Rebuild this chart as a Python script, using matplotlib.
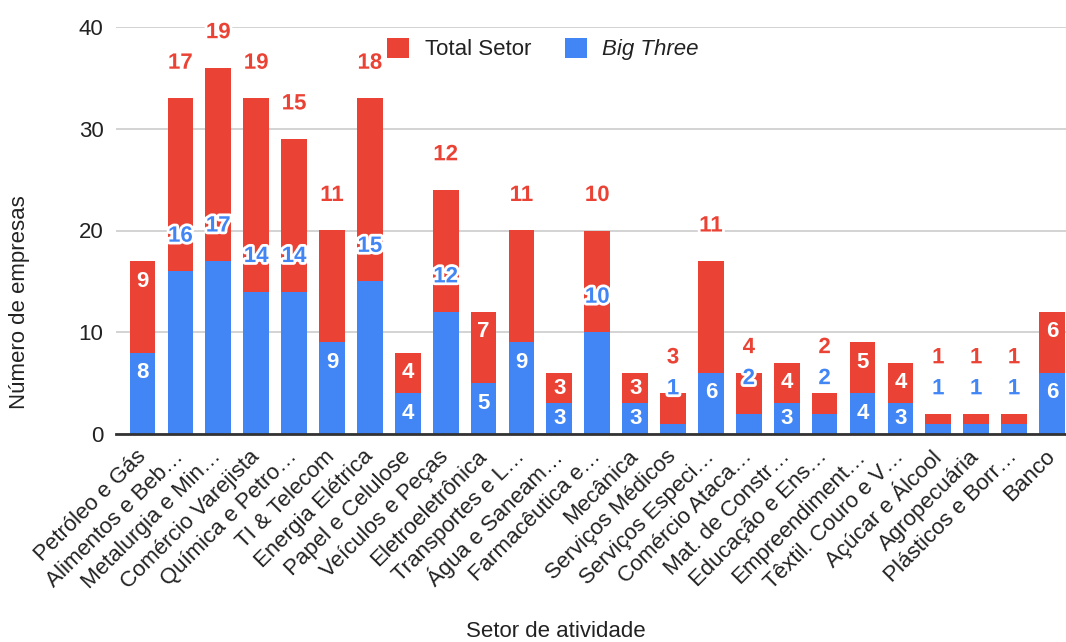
import matplotlib
matplotlib.use("Agg")
import matplotlib.pyplot as plt
import matplotlib.patheffects as pe
import numpy as np
from matplotlib.patches import Patch

categories = [
    "Petróleo e Gás", "Alimentos e Beb…", "Metalurgia e Min…", "Comércio Varejista",
    "Química e Petro…", "TI & Telecom", "Energia Elétrica", "Papel e Celulose",
    "Veículos e Peças", "Eletroeletrônica", "Transportes e L…", "Água e Saneam…",
    "Farmacêutica e…", "Mecânica", "Serviços Médicos", "Serviços Especi…",
    "Comércio Ataca…", "Mat. de Constr…", "Educação e Ens…", "Empreendiment…",
    "Têxtil. Couro e V…", "Açúcar e Álcool", "Agropecuária", "Plásticos e Borr…", "Banco",
]
big_three = [8, 16, 17, 14, 14, 9, 15, 4, 12, 5, 9, 3, 10, 3, 1, 6, 2, 3, 2, 4, 3, 1, 1, 1, 6]
total_setor = [9, 17, 19, 19, 15, 11, 18, 4, 12, 7, 11, 3, 10, 3, 3, 11, 4, 4, 2, 5, 4, 1, 1, 1, 6]
yticks = [0, 10, 20, 30, 40]

RED = "#EA4335"
BLUE = "#4285F4"
TXT = "#222222"
FONT = "Liberation Sans"

plt.rcParams['font.family'] = [FONT, 'DejaVu Sans']

W, H = 1066, 642
fig = plt.figure(figsize=(W / 100, H / 100), dpi=100)
ax = fig.add_axes([116 / W, 1 - 434 / H, (1066 - 116) / W, (434 - 27) / H])

x = np.arange(len(categories))
bw = 0.68
b = np.array(big_three)
r = np.array(total_setor)
ax.bar(x, b, width=bw, color=BLUE, zorder=2, label="Big Three")
ax.bar(x, r, bottom=b, width=bw, color=RED, zorder=2, label="Total Setor")

ax.set_xlim(-0.70, len(categories) - 1 + 0.37)
ax.set_ylim(0, 40)
ax.set_yticks(yticks)
ax.set_yticklabels([str(t) for t in yticks], fontsize=16, color=TXT)
ax.grid(axis='y', color="#cccccc", linewidth=1.2, zorder=0)
ax.set_axisbelow(True)
for s in ["left", "right", "top"]:
    ax.spines[s].set_visible(False)
ax.spines["bottom"].set_color("#333333")
ax.spines["bottom"].set_linewidth(2)
ax.spines["bottom"].set_zorder(3)
ax.tick_params(axis='both', length=0)
ax.tick_params(axis='y', pad=9)
ax.set_xticks(x)
ax.set_xticklabels(categories, rotation=45, ha='right', rotation_mode='anchor',
                   fontsize=16, color=TXT, va='center')
ax.tick_params(axis='x', pad=14)

# pixel helpers
px_per_unit = (434 - 27) / 40.0
PT = 0.72  # points per pixel at dpi 100
OUT = 35  # px above segment top for outside labels
STACK = 31  # px between stacked outside labels

def label_inside(val):
    return 3 <= val < 10

halo = [pe.withStroke(linewidth=4, foreground='white')]

for i in range(len(categories)):
    bv, rv = b[i], r[i]
    btop = bv
    ttop = bv + rv
    b_in = label_inside(bv)
    if b_in:
        off = -min(20, bv * px_per_unit / 2)
        ax.annotate(str(bv), xy=(i, btop), xytext=(0, off * PT), textcoords='offset points',
                    ha='center', va='center', fontsize=16, fontweight='bold', color='white', zorder=5)
    else:
        ax.annotate(str(bv), xy=(i, btop), xytext=(0, OUT * PT), textcoords='offset points',
                    ha='center', va='center', fontsize=16, fontweight='bold', color=BLUE, zorder=5,
                    path_effects=halo)
    if label_inside(rv) and b_in:
        off = -min(20, rv * px_per_unit / 2)
        ax.annotate(str(rv), xy=(i, ttop), xytext=(0, off * PT), textcoords='offset points',
                    ha='center', va='center', fontsize=16, fontweight='bold', color='white', zorder=5)
    elif (not b_in) and rv < 10:
        ax.annotate(str(rv), xy=(i, btop), xytext=(0, (OUT + STACK) * PT), textcoords='offset points',
                    ha='center', va='center', fontsize=16, fontweight='bold', color=RED, zorder=5,
                    path_effects=halo)
    else:
        ax.annotate(str(rv), xy=(i, ttop), xytext=(0, OUT * PT), textcoords='offset points',
                    ha='center', va='center', fontsize=16, fontweight='bold', color=RED, zorder=5,
                    path_effects=halo)

# legend
handles = [Patch(facecolor=RED, label="Total Setor"), Patch(facecolor=BLUE, label="Big Three")]
leg = fig.legend(handles=handles, loc='center', bbox_to_anchor=(543 / W, 1 - 49 / H), ncol=2,
                 frameon=False, fontsize=16, handlelength=1.0, handleheight=1.0,
                 handletextpad=0.7, columnspacing=1.5)
for t in leg.get_texts():
    t.set_color(TXT)
leg.get_texts()[1].set_fontstyle('italic')

fig.text(20 / W, 1 - 302 / H, "Número de empresas", rotation=90, ha='center', va='center',
         fontsize=16, color=TXT)
fig.text(556 / W, 1 - 637 / H, "Setor de atividade", ha='center', va='baseline',
         fontsize=16, color=TXT)

fig.savefig("out.png", dpi=100)
